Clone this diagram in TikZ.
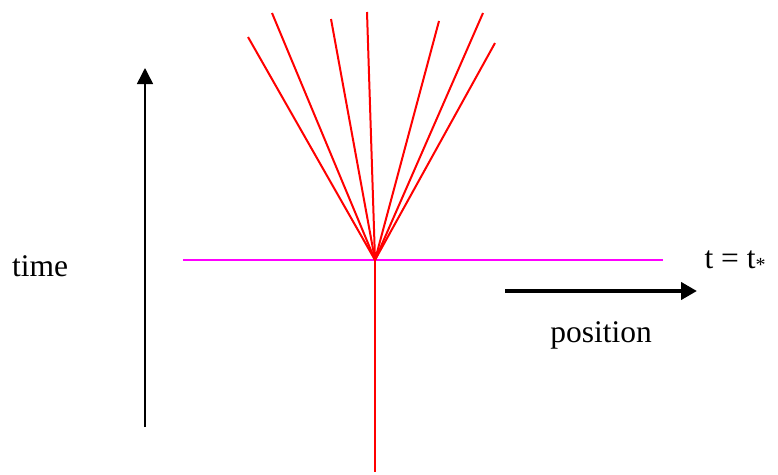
\documentclass[tikz,border=0pt]{standalone}
\usepackage{fontspec}
\setmainfont{Liberation Serif}
\usetikzlibrary{arrows.meta}
\begin{document}
\begin{tikzpicture}[x=1pt,y=-1pt,
  ray/.style={red, line width=2pt},
  lbl/.style={font=\fontsize{31.5}{35}\selectfont, inner sep=0pt, anchor=base}]
\useasboundingbox (0,0) rectangle (778,474);
\coordinate (c) at (375,260);
\coordinate (bot) at (375,472);
\foreach \i/\x/\y in {1/248/37, 2/272/13, 3/331/19, 4/367/12, 5/439/21, 6/483/13, 7/495/43}
  \coordinate (e\i) at (\x,\y);
\coordinate (hl) at (183,260);
\coordinate (hr) at (663,260);
\draw[color={rgb,255:red,255;green,0;blue,255}, line width=1.5pt] (hl) -- (hr);
\foreach \i in {1,...,7} \draw[ray] (c) -- (e\i);
\draw[ray] (c) -- (bot);
\coordinate (ta) at (145,427);
\coordinate (tb) at (145,68);
\draw[line width=1.5pt, -{Triangle[length=16pt,width=16pt]}] (ta) -- (tb);
\coordinate (pa) at (505,291);
\coordinate (pb) at (697,291);
\draw[line width=4pt, -{Triangle[length=16pt,width=17pt]}] (pa) -- (pb);
\node[lbl] (time) at (40,276) {time};
\node[lbl] (pos) at (601,342) {position};
\node[lbl] (tt) at (735,268) {t = t{\fontsize{20}{20}\selectfont\raisebox{-3pt}{*}}};
\end{tikzpicture}
\end{document}
